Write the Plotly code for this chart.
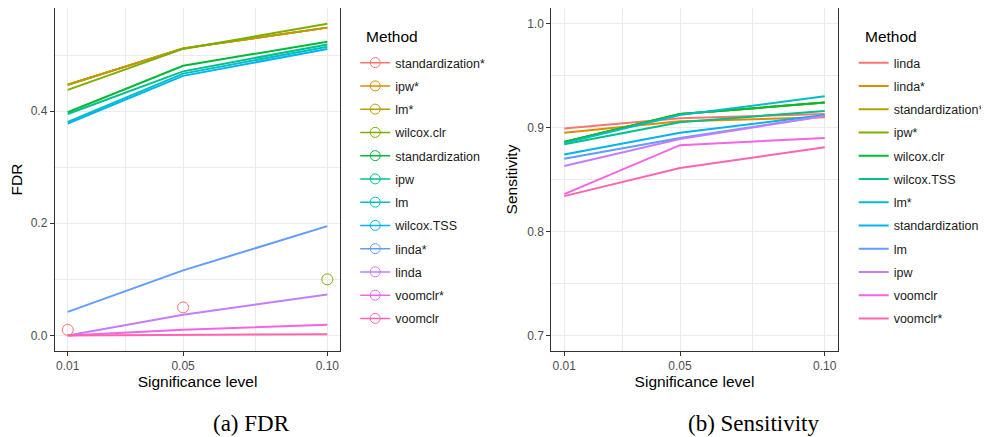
import plotly.graph_objects as go

# ---------------- data ----------------
levels = [0.01, 0.05, 0.10]
level_labels = ["0.01", "0.05", "0.10"]

# FDR panel (legend order)
fdr_methods = ["standardization*", "ipw*", "lm*", "wilcox.clr", "standardization", "ipw",
               "lm", "wilcox.TSS", "linda*", "linda", "voomclr*", "voomclr"]
fdr_values = {
    "standardization*": [0.447, 0.512, 0.549],
    "ipw*":             [0.447, 0.512, 0.549],
    "lm*":              [0.447, 0.512, 0.549],
    "wilcox.clr":       [0.438, 0.511, 0.556],
    "standardization":  [0.398, 0.481, 0.524],
    "ipw":              [0.395, 0.471, 0.519],
    "lm":               [0.381, 0.467, 0.515],
    "wilcox.TSS":       [0.378, 0.463, 0.511],
    "linda*":           [0.042, 0.116, 0.195],
    "linda":            [0.000, 0.037, 0.073],
    "voomclr*":         [0.000, 0.010, 0.019],
    "voomclr":          [0.000, 0.001, 0.002],
}
nominal_x = [0.01, 0.05, 0.10]
nominal_y = [0.01, 0.05, 0.10]
nominal_method = ["standardization*", "standardization*", "wilcox.clr"]

# Sensitivity panel (legend order)
sens_methods = ["linda", "linda*", "standardization*", "ipw*", "wilcox.clr", "wilcox.TSS",
                "lm*", "standardization", "lm", "ipw", "voomclr", "voomclr*"]
sens_values = {
    "linda":            [0.899, 0.909, 0.913],
    "linda*":           [0.895, 0.906, 0.910],
    "standardization*": [0.886, 0.913, 0.924],
    "ipw*":             [0.886, 0.913, 0.924],
    "wilcox.clr":       [0.886, 0.913, 0.924],
    "wilcox.TSS":       [0.884, 0.905, 0.916],
    "lm*":              [0.885, 0.912, 0.930],
    "standardization":  [0.874, 0.895, 0.912],
    "lm":               [0.870, 0.890, 0.911],
    "ipw":              [0.863, 0.889, 0.911],
    "voomclr":          [0.836, 0.883, 0.890],
    "voomclr*":         [0.834, 0.861, 0.881],
}

hue12 = ["#F8766D", "#DE8C00", "#B79F00", "#7CAE00", "#00BA38", "#00C08B",
         "#00BFC4", "#00B4F0", "#619CFF", "#C77CFF", "#F564E3", "#FF64B0"]

fdr_color = dict(zip(fdr_methods, hue12))
sens_color = dict(zip(sens_methods, hue12))

# ---------------- figure ----------------
OFF = 8                     # page body margin
W, H = 989 - OFF, 437 - OFF
fig = go.Figure()

def px_x(p):
    return (p - OFF) / W

def px_y(p):
    return 1 - (p - OFF) / H

FONT = "Liberation Sans, Arial, sans-serif"

# FDR lines
for m in fdr_methods:
    fig.add_trace(go.Scatter(x=levels, y=fdr_values[m], mode="lines",
                             line=dict(color=fdr_color[m], width=2),
                             showlegend=False, xaxis="x", yaxis="y", hoverinfo="skip"))
# nominal points
fig.add_trace(go.Scatter(x=nominal_x, y=nominal_y, mode="markers",
                         marker=dict(symbol="circle-open", size=11,
                                     color=[fdr_color[m] for m in nominal_method],
                                     line=dict(width=1)),
                         showlegend=False, xaxis="x", yaxis="y"))
# FDR legend entries
for m in fdr_methods:
    fig.add_trace(go.Scatter(x=[None], y=[None], mode="lines+markers", name=m,
                             line=dict(color=fdr_color[m], width=1.5),
                             marker=dict(symbol="circle-open", size=10, color=fdr_color[m],
                                         line=dict(width=1)),
                             legend="legend", legendgroup="a" + m,
                             xaxis="x", yaxis="y"))

# Sensitivity lines
for m in sens_methods:
    fig.add_trace(go.Scatter(x=levels, y=sens_values[m], mode="lines", name=m,
                             line=dict(color=sens_color[m], width=2),
                             legend="legend2", legendgroup="b" + m,
                             xaxis="x2", yaxis="y2"))

grid = "#EBEBEB"
border = "#333333"
tickfont = dict(family=FONT, size=12, color="#4D4D4D")
titlefont = dict(family=FONT, size=15.5, color="#000000")

xdom1 = [px_x(55), px_x(342)]
xdom2 = [px_x(554), px_x(842)]
ydom = [px_y(351), min(1.0, px_y(5))]

common_x = dict(range=[0.0055, 0.1045], tickvals=levels, ticktext=level_labels,
                showgrid=True, gridcolor=grid, gridwidth=1,
                minor=dict(tickvals=[0.03, 0.075], showgrid=True, gridcolor=grid, gridwidth=0.6, ticks=""),
                ticks="outside", ticklen=4, tickcolor=border, tickwidth=1,
                showline=True, linecolor=border, linewidth=1, mirror=True,
                zeroline=False, tickfont=tickfont,
                title=dict(text="Significance level", font=titlefont, standoff=3))

legend_common = dict(xanchor="left", yanchor="top",
                     font=dict(family=FONT, size=12.5, color="#1A1A1A"),
                     traceorder="grouped", tracegroupgap=4, itemwidth=30,
                     bgcolor="rgba(0,0,0,0)")

fig.update_layout(
    width=W, height=H,
    margin=dict(l=0, r=0, t=0, b=0),
    paper_bgcolor="white", plot_bgcolor="white",
    xaxis=dict(domain=xdom1, anchor="y", **common_x),
    xaxis2=dict(domain=xdom2, anchor="y2", **common_x),
    yaxis=dict(domain=ydom, anchor="x", range=[-0.0278, 0.584],
               tickvals=[0, 0.2, 0.4], ticktext=["0.0", "0.2", "0.4"],
               showgrid=True, gridcolor=grid, gridwidth=1,
               minor=dict(tickvals=[0.1, 0.3, 0.5], showgrid=True, gridcolor=grid, gridwidth=0.6, ticks=""),
               ticks="outside", ticklen=4, tickcolor=border, tickwidth=1,
               showline=True, linecolor=border, linewidth=1, mirror=True,
               zeroline=False, tickfont=tickfont,
               title=dict(text="FDR", font=titlefont, standoff=5)),
    yaxis2=dict(domain=ydom, anchor="x2", range=[0.685, 1.015],
                tickvals=[0.7, 0.8, 0.9, 1.0], ticktext=["0.7", "0.8", "0.9", "1.0"],
                showgrid=True, gridcolor=grid, gridwidth=1,
                minor=dict(tickvals=[0.75, 0.85, 0.95], showgrid=True, gridcolor=grid, gridwidth=0.6, ticks=""),
                ticks="outside", ticklen=4, tickcolor=border, tickwidth=1,
                showline=True, linecolor=border, linewidth=1, mirror=True,
                zeroline=False, tickfont=tickfont,
                title=dict(text="Sensitivity", font=titlefont, standoff=5)),
    legend=dict(x=px_x(357), y=px_y(48), **legend_common),
    legend2=dict(x=px_x(858), y=px_y(48), **legend_common),
    annotations=[
        dict(text="Method", x=px_x(366), y=px_y(36), xref="paper", yref="paper",
             showarrow=False, xanchor="left", yanchor="middle",
             font=dict(family=FONT, size=15.5, color="#000000")),
        dict(text="Method", x=px_x(867), y=px_y(36), xref="paper", yref="paper",
             showarrow=False, xanchor="left", yanchor="middle",
             font=dict(family=FONT, size=15.5, color="#000000")),
        dict(text="(a) FDR", x=px_x(253), y=px_y(423), xref="paper", yref="paper",
             showarrow=False, xanchor="center", yanchor="middle",
             font=dict(family="Liberation Serif, serif", size=23, color="#000000")),
        dict(text="(b) Sensitivity", x=px_x(757), y=px_y(423), xref="paper", yref="paper",
             showarrow=False, xanchor="center", yanchor="middle",
             font=dict(family="Liberation Serif, serif", size=23, color="#000000")),
    ],
)

fig.write_html("out.html")
